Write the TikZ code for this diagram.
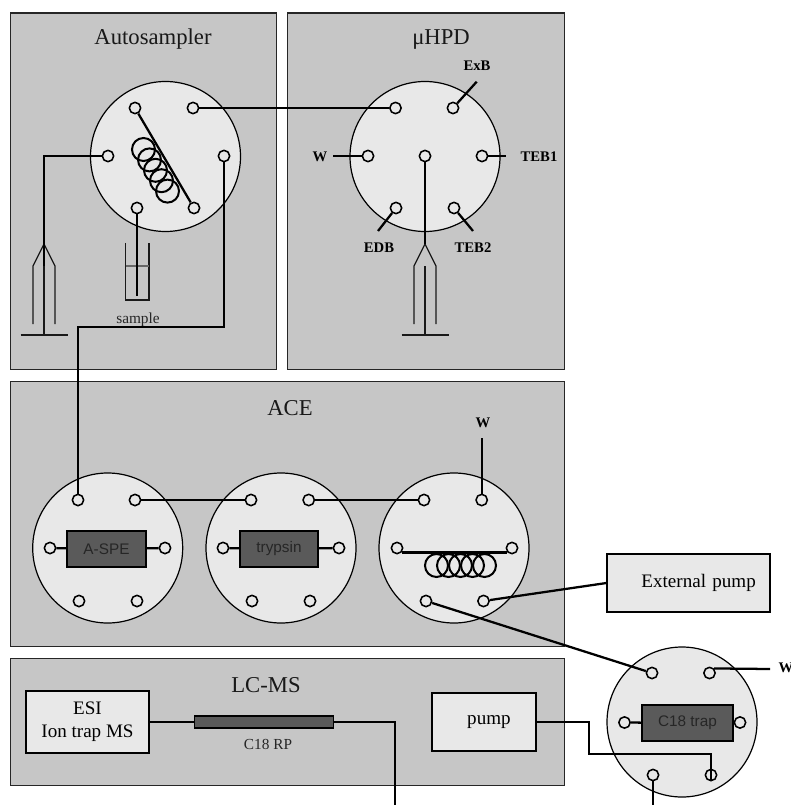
\documentclass[tikz,border=0pt]{standalone}
\usepackage{fontspec}
\setmainfont{Liberation Serif}
\setsansfont{Liberation Sans}
\usepackage{xcolor}
\usetikzlibrary{positioning}
\definecolor{panelgray}{HTML}{C6C6C6}
\definecolor{facegray}{HTML}{E8E8E8}
\definecolor{trapgray}{HTML}{5A5A5A}
\tikzset{
  panel/.style={draw=black!85, line width=0.9pt, fill=panelgray, minimum width=#1*0.75pt, inner sep=0pt},
  valve/.style={circle, draw=black, line width=0.9pt, fill=facegray, minimum size=112.5pt, inner sep=0pt},
  port/.style={circle, draw=black, line width=1.15pt, fill=facegray, minimum size=8.5pt, inner sep=0pt},
  tube/.style={line width=1.7pt, black},
  thin tube/.style={line width=0.9pt, black!90},
  coil/.style={line width=1.5pt, black},
  trap/.style={draw=black, line width=1.5pt, fill=trapgray, font=\sffamily\fontsize{11.5}{13}\selectfont, text=black!85, inner sep=0pt},
  lightbox/.style={draw=black, line width=0.9pt, fill=facegray, font=\fontsize{14.3}{17.5}\selectfont, inner sep=0pt, align=center},
  title/.style={font=\fontsize{17}{20}\selectfont, text=black!90},
  small label/.style={font=\fontsize{11.5}{13}\selectfont, text=black!85},
  line label/.style={font=\bfseries\fontsize{11}{13}\selectfont}
}
\begin{document}
\begin{tikzpicture}[x=0.75pt, y=-0.75pt]
  \useasboundingbox (0,0) rectangle (790,805);
  % Panels
  \node[panel=265.5, minimum height=267pt, anchor=north west] (autosampler) at (10,12.5) {};
  \node[panel=277, minimum height=267pt, anchor=north west] (hpd) at (287,12.5) {};
  \node[panel=554, minimum height=198.75pt, anchor=north west] (ace) at (10,381) {};
  \node[panel=554, minimum height=95.25pt, anchor=north west] (lcms) at (10,658) {};
  \node[title] (autosamplerlbl) at (153,39) {Autosampler};
  \node[title] (hpdlbl) at (441,40) {μHPD};
  \node[title] (acelbl) at (290,408) {ACE};
  \node[title] (lcmslbl) at (266,685) {LC-MS};
  % Valves
  \foreach \n/\x/\y in {asv/165.5/156.5, hpv/425/156.5, acva/107.7/548, acvb/281/548, acvc/454/548, trv/682/722} {
    \node[valve] (\n) at (\x,\y) {};
  }
  % Ports
  \foreach \n/\x/\y in {as1/135/108, as2/193/108, as3/108/156, as4/224/156, as5/137/208, as6/194/208,
      hp1/395.5/108, hp2/453/108, hp3/368/156, hp4/425/156, hp5/482/156, hp6/396/208, hp7/454/208,
      aa1/78/500, aa2/135/500, aa3/50/548, aa4/165/548, aa5/79/601, aa6/137/601,
      ab1/251/500, ab2/308.7/500, ab3/223/548, ab4/339/548, ab5/252/601, ab6/310/601,
      ac1/424/500, ac2/481.7/500, ac3/397/548, ac4/512/548, ac5/426/601, ac6/483.5/601,
      tr1/652/673, tr2/709.5/673, tr3/624.5/722.5, tr4/740/722.5, tr5/653/775, tr6/711/775} {
    \node[port] (\n) at (\x,\y) {};
  }
  % Loop on the autosampler valve
  \foreach \i in {0,...,4} {
    \draw[coil] (143.5+6*\i,149.5+10.4*\i) circle (11.5);
  }
  \draw[tube] (as1) -- (as6);
  % Loop on the third ACE valve
  \foreach \i in {0,...,4} {
    \draw[coil] (436.5+12*\i,565.5) circle (11.5);
  }
  \draw[tube] (ac3.south east) -- (ac4.south west);
  % Traps
  \node[trap, minimum width=59.25pt, minimum height=27pt] (aspe) at (106.5,549) {A-SPE};
  \node[trap, minimum width=58.5pt, minimum height=27pt] (trypsin) at (279,549) {trypsin};
  \node[trap, minimum width=68.25pt, minimum height=27pt] (c18trap) at (687.5,723) {C18 trap};
  \draw[tube] (aa3) -- (aspe);
  \draw[tube] (aspe) -- (aa4);
  \draw[tube] (ab3) -- (trypsin);
  \draw[tube] (trypsin) -- (ab4);
  \draw[tube] (tr3) -- (c18trap);
  \draw[tube] (c18trap) -- (tr4);
  % Syringes
  \foreach \sx/\n in {44/syra, 425/syrb} {
    \coordinate (\n) at (\sx,244);
    \draw[thin tube] (\n) -- (\sx-11,266) -- (\sx-11,324);
    \draw[thin tube] (\n) -- (\sx+11,266) -- (\sx+11,324);
    \draw[thin tube] (\sx,266) -- (\sx,335);
    \draw[thin tube] (\sx-23.5,335) -- (\sx+23.5,335);
  }
  \draw[tube] (as3) -| (syra);
  \draw[tube] (syra) -- ++(0,22);
  \draw[tube] (hp4) -- (syrb);
  % Sample vial
  \draw[thin tube] (125.5,243) -- (125.5,300) -- (149,300) -- (149,243);
  \draw[thin tube, black!60] (125.5,266) -- (149,266);
  \coordinate (vialend) at (137,296);
  \draw[tube] (as5) -- (vialend);
  \node[small label] (samplelbl) at (138,320) {sample};
  % Tubes between the valves
  \coordinate (bendA) at (78,327);
  \draw[tube] (as4) |- (bendA) -- (aa1);
  \draw[tube] (as2) -- (hp1);
  \draw[tube] (aa2) -- (ab1);
  \draw[tube] (ab2) -- (ac1);
  \draw[tube] (ac5) -- (tr1);
  % Outlets with labels
  \node[line label] (exblbl) at (477,66) {ExB};
  \node[line label] (wlbl) at (320,157) {W};
  \node[line label] (teba) at (539,157) {TEB1};
  \node[line label] (edblbl) at (379,248) {EDB};
  \node[line label] (tebb) at (473,248) {TEB2};
  \node[line label] (acwlbl) at (483,423) {W};
  \node[line label] (trwlbl) at (786,668) {W};
  \foreach \p/\ex/\ey/\n in {hp2/476.7/81.7/exbend, hp3/333/156/wend, hp5/505.7/156/tebaend, hp6/378/231/edbend, hp7/473/231/tebbend, ac2/481.7/438/acwend} {
    \coordinate (\n) at (\ex,\ey);
    \draw[tube] (\p) -- (\n);
  }
  \coordinate (trwend) at (770,669);
  \draw[tube] (tr2.45) -- (trwend);
  \coordinate (trout) at (653,805);
  \draw[tube] (tr5) -- (trout);
  % Pumps
  \node[lightbox, minimum width=122.25pt, minimum height=43.5pt, inner xsep=10.5pt, text width=101pt, align=right] (extpump) at (688.5,583) {External pump};
  \draw[tube] (ac6) -- (extpump.west);
  \node[lightbox, minimum width=78pt, minimum height=43.5pt, inner xsep=19pt, text width=40pt, align=right] (pump) at (484,722) {pump};
  \coordinate (pumpbend) at (589,754);
  \draw[tube] (pump.east) -| (pumpbend) -| (tr6.south);
  % LC-MS
  \node[lightbox, minimum width=92.25pt, minimum height=46.5pt] (esi) at (87.5,722) {ESI\\Ion trap MS};
  \node[trap, line width=0.9pt, minimum width=104.25pt, minimum height=9pt] (c18rp) at (264,722) {};
  \node[small label] (c18rplbl) at (268,744) {C18 RP};
  \coordinate (lcout) at (395,805);
  \draw[tube] (esi) -- (c18rp);
  \draw[tube] (c18rp.east) -| (lcout);
\end{tikzpicture}
\end{document}
